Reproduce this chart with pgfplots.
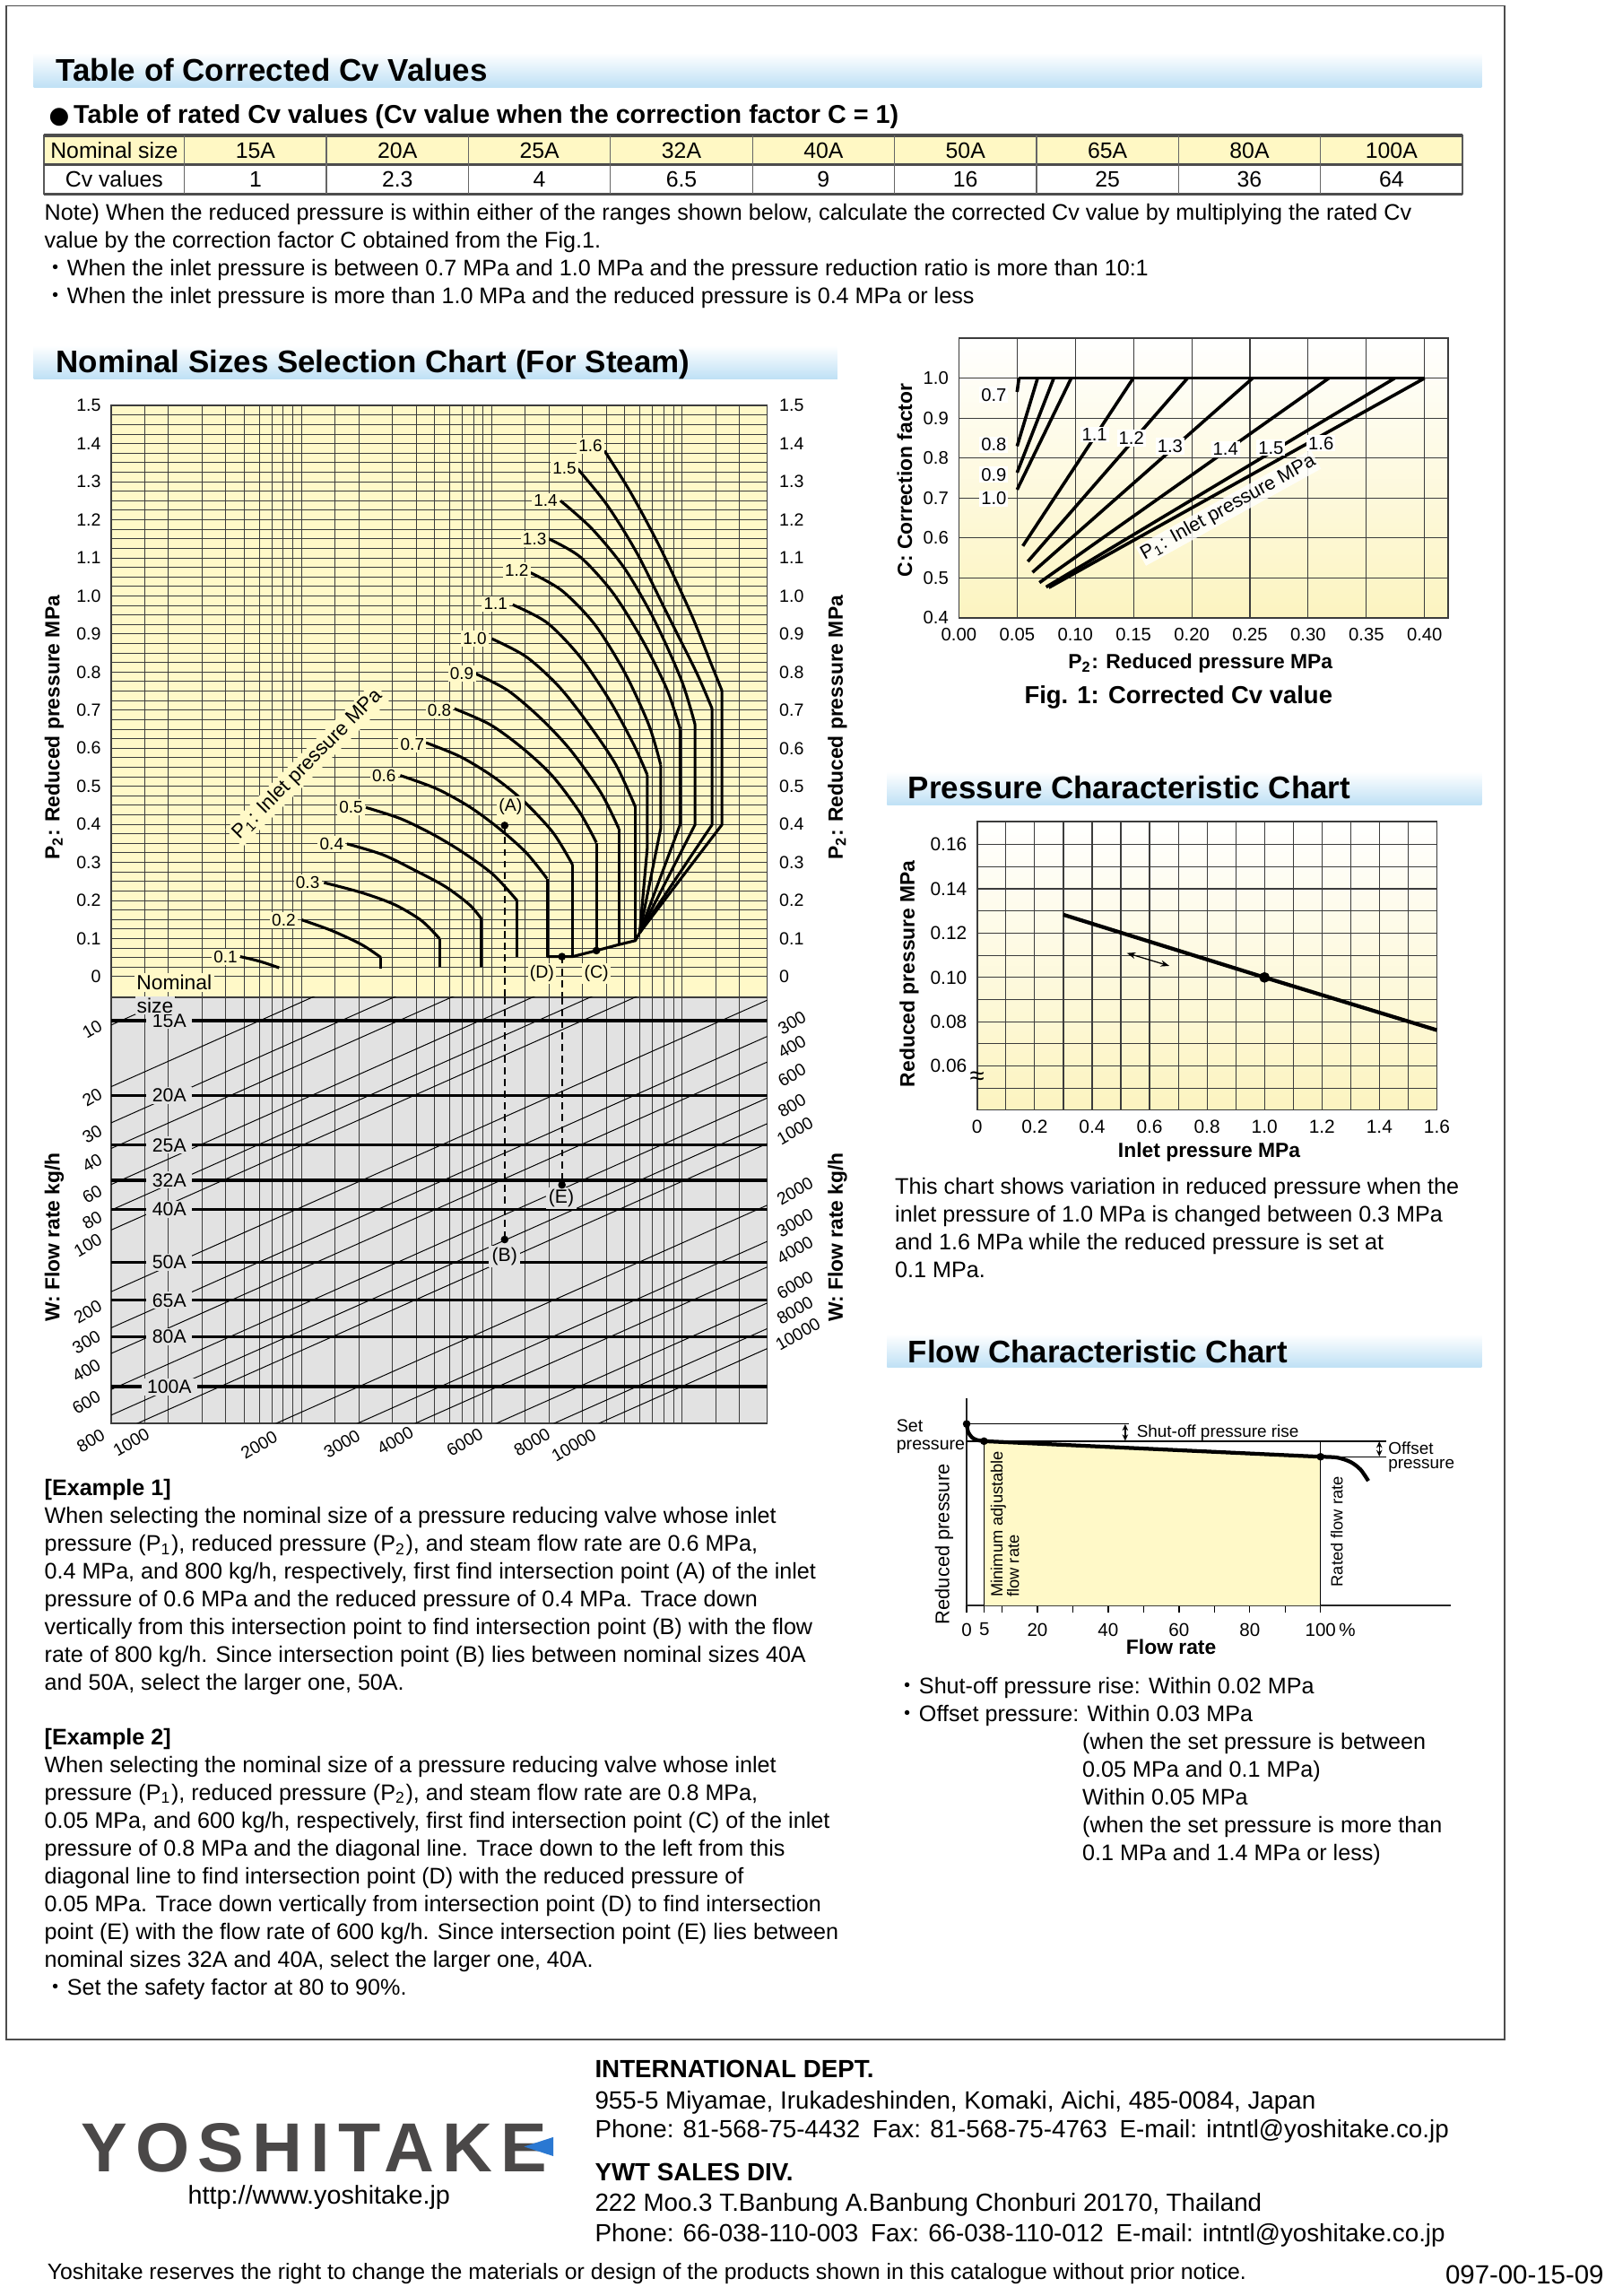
\documentclass[border=0pt]{standalone}
\usepackage{pgfplots}
\pgfplotsset{compat=1.18}
\usepackage{fontspec}
\setmainfont{Liberation Sans}
\newfontfamily\cjk{Noto Sans CJK JP}
\newfontfamily\dejavu{DejaVu Sans}
\newfontfamily\logofont[LetterSpace=12]{Liberation Sans}
\usetikzlibrary{arrows.meta}
\definecolor{ylw}{RGB}{255,249,200}
\definecolor{ylwg}{RGB}{252,244,192}
\definecolor{grayb}{RGB}{226,226,226}
\definecolor{headblue}{RGB}{190,224,245}
\definecolor{tabylw}{RGB}{255,248,196}
\definecolor{logogray}{RGB}{74,72,72}
\definecolor{logoblue}{RGB}{42,120,210}
\definecolor{gridc}{RGB}{60,60,60}
\newcommand{\fs}[1]{\fontsize{#1pt}{#1pt}\selectfont}
\newcommand{\bl}{{\cjk ・}}
\tikzset{
  crv/.style={black, line width=0.95pt, line join=round},
  dsh/.style={black, line width=0.5pt, dash pattern=on 2.4pt off 1.6pt},
  nom/.style={black, line width=1pt},
  diag/.style={black, line width=0.3pt},
  f1/.style={black, line width=1.1pt},
  thinl/.style={black, line width=0.4pt},
  bt/.style={anchor=base west, inner sep=0pt, font=\fs{7.7}},
  ft/.style={anchor=base west, inner sep=0pt, font=\fs{8.5}},
  hd/.style={anchor=base west, inner sep=0pt, font=\bfseries\fs{10.7}},
  al/.style={font=\bfseries\fs{7}, inner sep=0pt},
  lblA/.style={fill=ylw, inner sep=0.7pt, font=\fs{5.8}},
  lblB/.style={fill=grayb, inner xsep=2pt, inner ysep=0.6pt, font=\fs{6.5}},
}
\begin{document}
\begin{tikzpicture}
\useasboundingbox (0,0) rectangle (551pt,784pt);
\fill[white] (0,0) rectangle (551pt,784pt);

% ================= Selection chart: upper (yellow) part =================
\begin{axis}[
  at={(38pt,443.5pt)}, anchor=south west,
  scale only axis, width=224pt, height=202pt,
  xmin=0, xmax=3.446, ymin=-0.054, ymax=1.5,
  axis background/.style={fill=ylw},
  axis line style={draw=gridc, line width=0.5pt},
  xtick={0.1761,0.3010,0.4771,0.6021,0.6990,0.7782,0.8451,0.9031,0.9542,1,1.1761,1.3010,1.4771,1.6021,1.6990,1.7782,1.8451,1.9031,1.9542,2,2.1761,2.3010,2.4771,2.6021,2.6990,2.7782,2.8451,2.9031,2.9542,3,3.1761,3.3010},
  xticklabels={},
  ytick={0,0.025,...,1.501},
  yticklabels={0,,,,0.1,,,,0.2,,,,0.3,,,,0.4,,,,0.5,,,,0.6,,,,0.7,,,,0.8,,,,0.9,,,,1.0,,,,1.1,,,,1.2,,,,1.3,,,,1.4,,,,1.5},
  xmajorgrids, ymajorgrids,
  major grid style={draw=gridc, line width=0.3pt},
  major tick length=0pt,
  yticklabel style={font=\fs{6}},
]
% P1 = 1.6
\addplot[crv, smooth] coordinates {(2.5915,1.3813) (2.7297,1.2710) (2.8868,1.1239) (3.0439,0.9559) (3.1539,0.8193) (3.2089,0.7510)};
\addplot[crv] coordinates {(3.2089,0.7510) (3.2089,0.3992) (2.7768,0.1155)};
% 1.5
\addplot[crv, smooth] coordinates {(2.4469,1.3361) (2.6040,1.2395) (2.7611,1.1134) (2.9182,0.9559) (3.0753,0.7983) (3.1570,0.7038)};
\addplot[crv] coordinates {(3.1570,0.7038) (3.1570,0.3992) (2.7768,0.1155)};
% 1.4
\addplot[crv, smooth] coordinates {(2.3605,1.2500) (2.5255,1.1765) (2.6983,1.0714) (2.8554,0.9349) (2.9968,0.7773) (3.0675,0.6618)};
\addplot[crv] coordinates {(3.0675,0.6618) (3.0675,0.3992) (2.7768,0.1155)};
% 1.3
\addplot[crv, smooth] coordinates {(2.2977,1.1502) (2.4626,1.1029) (2.6354,1.0084) (2.7925,0.8824) (2.9182,0.7563) (2.9889,0.6513)};
\addplot[crv] coordinates {(2.9889,0.6513) (2.9889,0.3992) (2.7768,0.1155)};
% 1.2
\addplot[crv, smooth] coordinates {(2.2034,1.0609) (2.3684,1.0137) (2.5412,0.9244) (2.6983,0.7983) (2.8240,0.6618) (2.8868,0.5567)};
\addplot[crv] coordinates {(2.8868,0.5567) (2.8868,0.3887) (2.7768,0.1155)};
% 1.1
\addplot[crv, smooth] coordinates {(2.1092,0.9769) (2.2898,0.9296) (2.4626,0.8403) (2.6197,0.7248) (2.7454,0.6092) (2.8161,0.5305)};
\addplot[crv] coordinates {(2.8161,0.5305) (2.8161,0.3361) (2.7768,0.1155)};
% 1.0
\addplot[crv, smooth] coordinates {(1.9992,0.8876) (2.1799,0.8403) (2.3527,0.7616) (2.5098,0.6618) (2.6512,0.5567) (2.7533,0.4464)};
\addplot[crv] coordinates {(2.7533,0.4464) (2.7533,0.0945)};
% 0.9
\addplot[crv, smooth] coordinates {(1.9128,0.7962) (2.0856,0.7510) (2.2584,0.6775) (2.4155,0.5935) (2.5726,0.4832) (2.6669,0.3887)};
\addplot[crv] coordinates {(2.6669,0.3887) (2.6669,0.0840)};
% 0.8
\addplot[crv, smooth] coordinates {(1.8028,0.7038) (1.9913,0.6618) (2.1641,0.5987) (2.3212,0.5252) (2.4626,0.4307) (2.5490,0.3519)};
\addplot[crv] coordinates {(2.5490,0.3519) (2.5490,0.0683)};
% 0.7
\addplot[crv, smooth] coordinates {(1.6536,0.6145) (1.8342,0.5777) (2.0070,0.5252) (2.1641,0.4622) (2.3212,0.3782) (2.4234,0.2941)};
\addplot[crv] coordinates {(2.4234,0.2941) (2.4234,0.0525)};
% 0.6
\addplot[crv, smooth] coordinates {(1.5185,0.5284) (1.7086,0.4937) (1.8814,0.4464) (2.0385,0.3887) (2.1799,0.3256) (2.2898,0.2574)};
\addplot[crv] coordinates {(2.2898,0.2574) (2.2898,0.0525)};
% 0.5
\addplot[crv, smooth] coordinates {(1.3378,0.4443) (1.5200,0.4149) (1.6928,0.3729) (1.8499,0.3256) (2.0070,0.2679) (2.1327,0.1996)};
\addplot[crv] coordinates {(2.1327,0.1996) (2.1327,0.0525)};
% 0.4
\addplot[crv, smooth] coordinates {(1.2388,0.3487) (1.4258,0.3204) (1.5986,0.2784) (1.7557,0.2363) (1.8814,0.1891) (1.9442,0.1523)};
\addplot[crv] coordinates {(1.9442,0.1523) (1.9442,0.0263)};
% 0.3
\addplot[crv, smooth] coordinates {(1.1179,0.2468) (1.3158,0.2206) (1.4886,0.1891) (1.6300,0.1471) (1.7243,0.0998)};
\addplot[crv] coordinates {(1.7243,0.0998) (1.7243,0.0263)};
% 0.2
\addplot[crv, smooth] coordinates {(1.0000,0.1492) (1.1587,0.1208) (1.3158,0.0840) (1.4163,0.0504)};
\addplot[crv] coordinates {(1.4163,0.0504) (1.4163,0.0210)};
% 0.1
\addplot[crv, smooth] coordinates {(0.6780,0.0525) (0.7817,0.0399) (0.8822,0.0231)};
% diagonal envelope
\addplot[crv] coordinates {(2.2898,0.0525) (2.4234,0.0525) (2.5490,0.0683) (2.6669,0.0840) (2.7533,0.0945) (2.7768,0.1155)};
% examples
\addplot[dsh] coordinates {(2.067,0.397) (2.067,-0.054)};
\addplot[dsh] coordinates {(2.368,0.0525) (2.368,-0.054)};
\addplot[only marks, mark=*, mark size=1.1pt, black] coordinates {(2.067,0.397) (2.368,0.0525) (2.549,0.0683)};
% labels
\node[lblA] at (axis cs:2.5176,1.395) {1.6};
\node[lblA] at (axis cs:2.381,1.336) {1.5};
\node[lblA] at (axis cs:2.282,1.250) {1.4};
\node[lblA] at (axis cs:2.224,1.150) {1.3};
\node[lblA] at (axis cs:2.130,1.068) {1.2};
\node[lblA] at (axis cs:2.020,0.979) {1.1};
\node[lblA] at (axis cs:1.910,0.888) {1.0};
\node[lblA] at (axis cs:1.842,0.796) {0.9};
\node[lblA] at (axis cs:1.724,0.699) {0.8};
\node[lblA] at (axis cs:1.582,0.611) {0.7};
\node[lblA] at (axis cs:1.433,0.528) {0.6};
\node[lblA] at (axis cs:1.260,0.444) {0.5};
\node[lblA] at (axis cs:1.158,0.349) {0.4};
\node[lblA] at (axis cs:1.032,0.247) {0.3};
\node[lblA] at (axis cs:0.906,0.149) {0.2};
\node[lblA] at (axis cs:0.600,0.0525) {0.1};
\node[lblA, font=\fs{6}] at (axis cs:2.098,0.446) {(A)};
\node[lblA, font=\fs{6}] at (axis cs:2.263,0.008) {(D)};
\node[lblA, font=\fs{6}] at (axis cs:2.549,0.008) {(C)};
\node[lblA, font=\fs{6.8}, rotate=45, inner sep=1pt] at (axis cs:1.032,0.557) {P\textsubscript{1}: Inlet pressure MPa};
\node[lblA, font=\fs{7}] at (axis cs:0.331,-0.016) {Nominal};
\end{axis}

% ================= Selection chart: lower (grey) part =================
\begin{axis}[
  at={(38pt,298pt)}, anchor=south west,
  scale only axis, width=224pt, height=145.5pt,
  xmin=0, xmax=3.446, ymin=-0.1159, ymax=1.9928, y dir=reverse,
  axis background/.style={fill=grayb},
  axis line style={draw=gridc, line width=0.5pt},
  xtick={0.1761,0.3010,0.4771,0.6021,0.6990,0.7782,0.8451,0.9031,0.9542,1,1.1761,1.3010,1.4771,1.6021,1.6990,1.7782,1.8451,1.9031,1.9542,2,2.1761,2.3010,2.4771,2.6021,2.6990,2.7782,2.8451,2.9031,2.9542,3,3.1761,3.3010},
  xticklabels={}, ytick=\empty,
  xmajorgrids, major grid style={draw=gridc, line width=0.3pt},
  major tick length=0pt,
]
% flow-rate diagonals (W = 10 ... 10000 kg/h)
\addplot[diag] coordinates {(0,0.0217) (3.446,-1.4203)};
\addplot[diag] coordinates {(0,0.3268) (3.446,-1.1152)};
\addplot[diag] coordinates {(0,0.5058) (3.446,-0.9362)};
\addplot[diag] coordinates {(0,0.6326) (3.446,-0.8094)};
\addplot[diag] coordinates {(0,0.8109) (3.446,-0.6311)};
\addplot[diag] coordinates {(0,0.9377) (3.446,-0.5043)};
\addplot[diag] coordinates {(0,1.0362) (3.446,-0.4058)};
\addplot[diag] coordinates {(0,1.3413) (3.446,-0.1007)};
\addplot[diag] coordinates {(0,1.5203) (3.446,0.0783)};
\addplot[diag] coordinates {(0,1.6471) (3.446,0.2051)};
\addplot[diag] coordinates {(0,1.8254) (3.446,0.3834)};
\addplot[diag] coordinates {(0,1.9522) (3.446,0.5102)};
\addplot[diag] coordinates {(0,2.0507) (3.446,0.6087)};
\addplot[diag] coordinates {(0,2.3558) (3.446,0.9138)};
\addplot[diag] coordinates {(0,2.5348) (3.446,1.0928)};
\addplot[diag] coordinates {(0,2.6616) (3.446,1.2196)};
\addplot[diag] coordinates {(0,2.8399) (3.446,1.3979)};
\addplot[diag] coordinates {(0,2.9667) (3.446,1.5247)};
\addplot[diag] coordinates {(0,3.0652) (3.446,1.6232)};
% nominal size lines
\addplot[nom] coordinates {(0,0) (3.446,0)};
\addplot[nom] coordinates {(0,0.3696) (3.446,0.3696)};
\addplot[nom] coordinates {(0,0.6159) (3.446,0.6159)};
\addplot[nom] coordinates {(0,0.7899) (3.446,0.7899)};
\addplot[nom] coordinates {(0,0.9348) (3.446,0.9348)};
\addplot[nom] coordinates {(0,1.1957) (3.446,1.1957)};
\addplot[nom] coordinates {(0,1.3841) (3.446,1.3841)};
\addplot[nom] coordinates {(0,1.5652) (3.446,1.5652)};
\addplot[nom] coordinates {(0,1.8116) (3.446,1.8116)};
\addplot[dsh] coordinates {(2.067,-0.1159) (2.067,1.0833)};
\addplot[dsh] coordinates {(2.368,-0.1159) (2.368,0.813)};
\addplot[only marks, mark=*, mark size=1.1pt, black] coordinates {(2.067,1.0833) (2.368,0.813)};
\node[lblB] at (axis cs:0.305,0) {15A};
\node[lblB] at (axis cs:0.305,0.3696) {20A};
\node[lblB] at (axis cs:0.305,0.6159) {25A};
\node[lblB] at (axis cs:0.305,0.7899) {32A};
\node[lblB] at (axis cs:0.305,0.9348) {40A};
\node[lblB] at (axis cs:0.305,1.1957) {50A};
\node[lblB] at (axis cs:0.305,1.3841) {65A};
\node[lblB] at (axis cs:0.305,1.5652) {80A};
\node[lblB] at (axis cs:0.305,1.8116) {100A};
\node[lblB, font=\fs{7}, inner xsep=0.5pt] at (axis cs:0.2308,-0.075) {size};
\node[lblB, font=\fs{6.5}, inner xsep=1pt] at (axis cs:2.067,1.167) {(B)};
\node[lblB, font=\fs{6.5}, inner xsep=1pt] at (axis cs:2.365,0.880) {(E)};
\end{axis}

% ================= Fig. 1 =================
\begin{axis}[
  at={(327.5pt,573pt)}, anchor=south west,
  scale only axis, width=167pt, height=95.5pt,
  xmin=0, xmax=0.42, ymin=0.4, ymax=1.1,
  axis background/.style={shade, top color=white, bottom color=ylwg},
  axis line style={draw=gridc, line width=0.5pt},
  xtick={0,0.05,0.1,0.15,0.2,0.25,0.3,0.35,0.4},
  xticklabels={0.00,0.05,0.10,0.15,0.20,0.25,0.30,0.35,0.40},
  ytick={0.4,0.5,0.6,0.7,0.8,0.9,1.0},
  yticklabels={0.4,0.5,0.6,0.7,0.8,0.9,1.0},
  grid=major, major grid style={draw=gridc, line width=0.35pt},
  major tick length=0pt,
  ticklabel style={font=\fs{6.2}},
]
\addplot[f1] coordinates {(0.0516,1.0) (0.40,1.0)};
\addplot[f1] coordinates {(0.0500,0.9655) (0.0516,1.0)};
\addplot[f1] coordinates {(0.0500,0.8297) (0.0676,1.0)};
\addplot[f1] coordinates {(0.0500,0.7636) (0.0815,1.0)};
\addplot[f1] coordinates {(0.0500,0.7210) (0.0965,1.0)};
\addplot[f1] coordinates {(0.0549,0.5800) (0.1498,1.0)};
\addplot[f1] coordinates {(0.0592,0.5411) (0.1964,1.0)};
\addplot[f1] coordinates {(0.0632,0.5140) (0.2523,1.0)};
\addplot[f1] coordinates {(0.0692,0.4883) (0.3178,1.0)};
\addplot[f1] coordinates {(0.0749,0.4772) (0.3744,1.0)};
\addplot[f1] coordinates {(0.0772,0.4758) (0.4000,1.0)};
\node[font=\fs{6.2}, fill=white, inner sep=0.6pt] at (axis cs:0.030,0.958) {0.7};
\node[font=\fs{6.2}, fill=white, inner sep=0.6pt] at (axis cs:0.030,0.8333) {0.8};
\node[font=\fs{6.2}, fill=white, inner sep=0.6pt] at (axis cs:0.030,0.7584) {0.9};
\node[font=\fs{6.2}, fill=white, inner sep=0.6pt] at (axis cs:0.030,0.699) {1.0};
\node[font=\fs{6.2}, fill=white, inner sep=0.6pt] at (axis cs:0.1165,0.859) {1.1};
\node[font=\fs{6.2}, fill=white, inner sep=0.6pt] at (axis cs:0.1481,0.850) {1.2};
\node[font=\fs{6.2}, fill=white, inner sep=0.6pt] at (axis cs:0.1814,0.830) {1.3};
\node[font=\fs{6.2}, fill=white, inner sep=0.6pt] at (axis cs:0.229,0.822) {1.4};
\node[font=\fs{6.2}, fill=white, inner sep=0.6pt] at (axis cs:0.268,0.826) {1.5};
\node[font=\fs{6.2}, fill=white, inner sep=0.6pt] at (axis cs:0.311,0.837) {1.6};
\node[font=\fs{6.6}, rotate=29, fill=white, fill opacity=0.8, text opacity=1, inner sep=0.6pt] at (axis cs:0.2314,0.6755) {P\textsubscript{1}: Inlet pressure MPa};
\end{axis}

% ================= Pressure characteristic =================
\begin{axis}[
  at={(333.75pt,405pt)}, anchor=south west,
  scale only axis, width=157pt, height=98.5pt,
  xmin=0, xmax=1.6, ymin=0.0402, ymax=0.1704,
  axis background/.style={shade, top color=white, bottom color=ylwg},
  axis line style={draw=gridc, line width=0.5pt},
  xtick={0,0.1,...,1.601},
  xticklabels={0,,0.2,,0.4,,0.6,,0.8,,1.0,,1.2,,1.4,,1.6},
  ytick={0.05,0.06,...,0.1705},
  yticklabels={,0.06,,0.08,,0.10,,0.12,,0.14,,0.16,},
  grid=major, major grid style={draw=gridc, line width=0.35pt},
  major tick length=0pt,
  ticklabel style={font=\fs{6.4}},
  clip=false,
]
\addplot[black, line width=1.3pt] coordinates {(0.3,0.1283) (1.0,0.1) (1.6,0.0762)};
\addplot[only marks, mark=*, mark size=1.6pt, black] coordinates {(1.0,0.1)};
\addplot[black, line width=0.4pt, arrows={Stealth[length=3pt,width=2.2pt]-Stealth[length=3pt,width=2.2pt]}] coordinates {(0.5207,0.111) (0.669,0.1052)};
\node[font=\fs{9}, inner sep=0pt] at (axis cs:0,0.0545) {≈};
\end{axis}

% ================= Flow characteristic =================
\begin{axis}[
  at={(330.15pt,235.8pt)}, anchor=south west,
  scale only axis, width=165.35pt, height=70.9pt,
  xmin=0, xmax=136.8, ymin=0, ymax=126.4,
  axis x line*=bottom, axis y line*=left,
  axis line style={-, line width=0.6pt, black!85},
  xtick={0,5,10,20,30,40,50,60,70,80,90,100},
  xticklabels={0,5,,20,,40,,60,,80,,100\rlap{\,\%}},
  ytick=\empty,
  tick align=outside, major tick length=2.5pt,
  xtick style={black, line width=0.4pt},
  xticklabel style={font=\fs{6.3}},
  clip=false,
]
\addplot[fill=ylw, draw=none] coordinates {(5,100) (100,90.5)} \closedcycle;
\addplot[thinl] coordinates {(5,0) (5,100)};
\addplot[thinl] coordinates {(100,0) (100,100)};
\addplot[thinl] coordinates {(0,110.5) (45.9,110.5)};
\addplot[thinl] coordinates {(0,100) (118.5,100)};
\addplot[thinl] coordinates {(100,90.5) (118.5,90.5)};
\addplot[thinl, arrows={Stealth[length=2.2pt,width=2pt]-Stealth[length=2.2pt,width=2pt]}] coordinates {(44.8,110.3) (44.8,100.2)};
\addplot[thinl, arrows={Stealth[length=2.2pt,width=2pt]-Stealth[length=2.2pt,width=2pt]}] coordinates {(116.6,99.8) (116.6,90.7)};
\addplot[black, line width=1.3pt, smooth] coordinates {(0,110.5) (0.44,105.5) (1.55,102.2) (2.9,100.7) (4.9,100)};
\addplot[black, line width=1.3pt] coordinates {(4.9,100) (100,90.5)};
\addplot[black, line width=1.3pt, smooth] coordinates {(100,90.5) (104.7,90) (108.5,87.3) (111.3,82.7) (113.5,75.8)};
\addplot[only marks, mark=*, mark size=1.1pt, black] coordinates {(0,110.5) (4.9,100) (100,90.5)};
\node[anchor=west, font=\fs{5.8}, inner sep=0pt] at (axis cs:47.9,105.3) {Shut-off pressure rise};
\node[anchor=west, font=\fs{5.8}, inner sep=0pt] at (axis cs:119,95.5) {Offset};
\node[anchor=west, font=\fs{5.8}, inner sep=0pt] at (axis cs:119,84.9) {pressure};
\node[anchor=west, rotate=90, font=\fs{5.6}, inner sep=0pt] at (axis cs:8.97,4.8) {Minimum adjustable};
\node[anchor=west, rotate=90, font=\fs{5.6}, inner sep=0pt] at (axis cs:13.1,4.8) {flow rate};
\node[anchor=west, rotate=90, font=\fs{5.6}, inner sep=0pt] at (axis cs:104.6,11) {Rated flow rate};
\end{axis}

% ================= page text and frames =================
\begin{scope}[shift={(0pt,784pt)}, x=0.5pt, y=-0.5pt]
\draw[black!70, line width=0.6pt] (4,4) rectangle (1028,1393);
\shade[top color=white, bottom color=headblue] (23,36) rectangle (1012,60);
\shade[top color=white, bottom color=headblue] (23,236) rectangle (572,259);
\shade[top color=white, bottom color=headblue] (606,527) rectangle (1012,550);
\shade[top color=white, bottom color=headblue] (606,911) rectangle (1012,934);
\node[hd] at (38,55.7) {Table of Corrected Cv Values};
\node[hd] at (38,254.7) {Nominal Sizes Selection Chart (For Steam)};
\node[hd] at (620,545.7) {Pressure Characteristic Chart};
\node[hd] at (620,930.7) {Flow Characteristic Chart};
\node[anchor=base west, inner sep=0pt, font=\bfseries\fs{8.8}] at (33,84.3) {{\dejavu\fs{8}●}\,Table of rated Cv values (Cv value when the correction factor C = 1)};
% table
\fill[tabylw] (30,92.5) rectangle (999,112.5);
\draw[black!65, line width=0.5pt] (30,92.5) rectangle (999,132.5);
\draw[black!70, line width=1pt] (30,92.5) -- (999,92.5);
\draw[black!70, line width=0.8pt] (30,112.5) -- (999,112.5);
\draw[black!70, line width=0.8pt] (30,132.5) -- (999,132.5);
\foreach \x in {126,223,320,417,514,611,708,805,902} \draw[black!60, line width=0.4pt] (\x,92.5) -- (\x,132.5);
\foreach \x/\a/\b in {78/Nominal size/Cv values,174.5/15A/1,271.5/20A/2.3,368.5/25A/4,465.5/32A/6.5,562.5/40A/9,659.5/50A/16,756.5/65A/25,853.5/80A/36,950.5/100A/64} {
  \node[anchor=base, inner sep=0pt, font=\fs{7.6}] at (\x,107.9) {\a};
  \node[anchor=base, inner sep=0pt, font=\fs{7.6}] at (\x,127.9) {\b};
}
\node[bt] at (30,150.5) {Note) When the reduced pressure is within either of the ranges shown below, calculate the corrected Cv value by multiplying the rated Cv};
\node[bt] at (30,169.5) {value by the correction factor C obtained from the Fig.1.};
\node[bt] at (30,188.5) {\bl When the inlet pressure is between 0.7 MPa and 1.0 MPa and the pressure reduction ratio is more than 10:1};
\node[bt] at (30,207.5) {\bl When the inlet pressure is more than 1.0 MPa and the reduced pressure is 0.4 MPa or less};
% selection chart labels
\node[al, rotate=90] at (37,497) {P\textsubscript{2}: Reduced pressure MPa};
\node[al, rotate=90] at (572,497) {P\textsubscript{2}: Reduced pressure MPa};
\node[al, rotate=90] at (37,845) {W: Flow rate kg/h};
\node[al, rotate=90] at (572,845) {W: Flow rate kg/h};
\foreach \k/\t in {0/0,1/0.1,2/0.2,3/0.3,4/0.4,5/0.5,6/0.6,7/0.7,8/0.8,9/0.9,10/1.0,11/1.1,12/1.2,13/1.3,14/1.4,15/1.5}
  \node[anchor=west, inner sep=0pt, font=\fs{6}] at (532,{667-26*\k}) {\t};
\foreach \x/\y/\t in {63/702.9/10,63/749.5/20,63/774.5/30,63/794/40,63/815.7/60,63/833.5/80,60/850.4/100,60/896/200,59/916.6/300,59/936/400,59/957.8/600,62/984/800,89.6/985/1000,177/987/2000,233.6/986/3000,270/984/4000,317.5/985/6000,363.4/985/8000,392/987/10000,541/698.5/300,541/714.8/400,541/734.3/600,541/755/800,543/772.3/1000,543/813.5/2000,543/835.2/3000,543/853.7/4000,543/877.6/6000,543/894.9/8000,545/911.2/10000}
  \node[rotate=30, inner sep=0pt, font=\fs{5.9}] at (\x,\y) {\t};
% Fig. 1 labels
\node[al, rotate=90] at (618,328) {C: Correction factor};
\node[al] at (820,453) {P\textsubscript{2}: Reduced pressure MPa};
\node[font=\bfseries\fs{8.4}, inner sep=0pt] at (805,476) {Fig. 1: Corrected Cv value};
% pressure chart labels
\node[al, rotate=90] at (621,665) {Reduced pressure MPa};
\node[al] at (826,787) {Inlet pressure MPa};
\node[bt] at (611,815.5) {This chart shows variation in reduced pressure when the};
\node[bt] at (611,834.5) {inlet pressure of 1.0 MPa is changed between 0.3 MPa};
\node[bt] at (611,853.5) {and 1.6 MPa while the reduced pressure is set at};
\node[bt] at (611,872.5) {0.1 MPa.};
% flow chart labels
\node[anchor=base west, inner sep=0pt, font=\fs{6}] at (612,978) {Set};
\node[anchor=base west, inner sep=0pt, font=\fs{6}] at (612,990) {pressure};
\node[rotate=90, inner sep=0pt, font=\fs{6.7}] at (645,1054.6) {Reduced pressure};
\node[al] at (800,1125) {Flow rate};
\node[bt] at (612,1156.5) {\bl Shut-off pressure rise: Within 0.02 MPa};
\node[bt] at (612,1175.5) {\bl Offset pressure: Within 0.03 MPa};
\node[bt] at (739,1194.5) {(when the set pressure is between};
\node[bt] at (739,1213.5) {0.05 MPa and 0.1 MPa)};
\node[bt] at (739,1232.5) {Within 0.05 MPa};
\node[bt] at (739,1251.5) {(when the set pressure is more than};
\node[bt] at (739,1270.5) {0.1 MPa and 1.4 MPa or less)};
% examples
\node[bt, font=\bfseries\fs{7.7}] at (30,1021.5) {[Example 1]};
\node[bt] at (30,1040.5) {When selecting the nominal size of a pressure reducing valve whose inlet};
\node[bt] at (30,1059.5) {pressure (P\textsubscript{1}), reduced pressure (P\textsubscript{2}), and steam flow rate are 0.6 MPa,};
\node[bt] at (30,1078.5) {0.4 MPa, and 800 kg/h, respectively, first find intersection point (A) of the inlet};
\node[bt] at (30,1097.5) {pressure of 0.6 MPa and the reduced pressure of 0.4 MPa. Trace down};
\node[bt] at (30,1116.5) {vertically from this intersection point to find intersection point (B) with the flow};
\node[bt] at (30,1135.5) {rate of 800 kg/h. Since intersection point (B) lies between nominal sizes 40A};
\node[bt] at (30,1154.5) {and 50A, select the larger one, 50A.};
\node[bt, font=\bfseries\fs{7.7}] at (30,1191.5) {[Example 2]};
\node[bt] at (30,1210.5) {When selecting the nominal size of a pressure reducing valve whose inlet};
\node[bt] at (30,1229.5) {pressure (P\textsubscript{1}), reduced pressure (P\textsubscript{2}), and steam flow rate are 0.8 MPa,};
\node[bt] at (30,1248.5) {0.05 MPa, and 600 kg/h, respectively, first find intersection point (C) of the inlet};
\node[bt] at (30,1267.5) {pressure of 0.8 MPa and the diagonal line. Trace down to the left from this};
\node[bt] at (30,1286.5) {diagonal line to find intersection point (D) with the reduced pressure of};
\node[bt] at (30,1305.5) {0.05 MPa. Trace down vertically from intersection point (D) to find intersection};
\node[bt] at (30,1324.5) {point (E) with the flow rate of 600 kg/h. Since intersection point (E) lies between};
\node[bt] at (30,1343.5) {nominal sizes 32A and 40A, select the larger one, 40A.};
\node[bt] at (30,1362.5) {\bl Set the safety factor at 80 to 90\%.};
% footer
\node[anchor=base west, inner sep=0pt, font=\logofont\bfseries\fs{23.7}, text=logogray] at (55,1483) {YOSHITAKE};
\fill[logoblue] (378,1459.5) -- (378,1472.5) -- (358,1466) -- cycle;
\node[anchor=base west, inner sep=0pt, font=\fs{8.8}] at (128,1505) {http://www.yoshitake.jp};
\node[ft, font=\bfseries\fs{8.5}] at (406,1419) {INTERNATIONAL DEPT.};
\node[ft] at (406,1440) {955-5 Miyamae, Irukadeshinden, Komaki, Aichi, 485-0084, Japan};
\node[ft] at (406,1460) {Phone: 81-568-75-4432\hspace{0.5em}Fax: 81-568-75-4763\hspace{0.5em}E-mail: intntl@yoshitake.co.jp};
\node[ft, font=\bfseries\fs{8.5}] at (406,1489) {YWT SALES DIV.};
\node[ft] at (406,1510) {222 Moo.3 T.Banbung A.Banbung Chonburi 20170, Thailand};
\node[ft] at (406,1531) {Phone: 66-038-110-003\hspace{0.5em}Fax: 66-038-110-012\hspace{0.5em}E-mail: intntl@yoshitake.co.jp};
\node[anchor=base west, inner sep=0pt, font=\fs{7.6}] at (32,1556.5) {Yoshitake reserves the right to change the materials or design of the products shown in this catalogue without prior notice.};
\node[anchor=base west, inner sep=0pt, font=\fs{9}] at (987,1559.5) {097-00-15-09};
\end{scope}
\end{tikzpicture}
\end{document}
